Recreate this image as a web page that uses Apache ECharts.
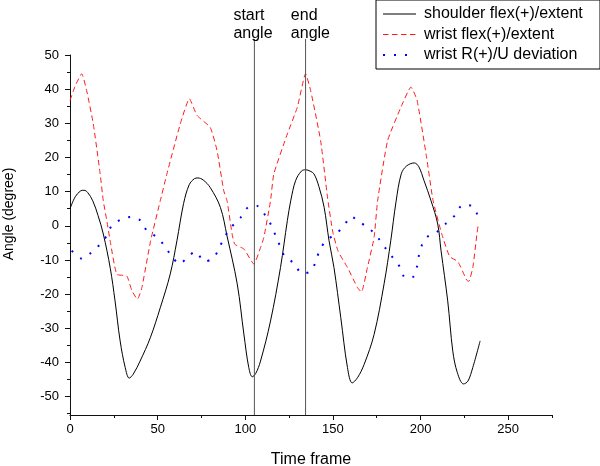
<!DOCTYPE html>
<html>
<head>
<meta charset="utf-8">
<script src="https://cdn.jsdelivr.net/npm/echarts@6/dist/echarts.min.js"></script>
<style>
html,body{margin:0;padding:0;background:#fff;}
#chart{width:600px;height:466px;}
</style>
</head>
<body>
<div id="chart"></div>
<script>
// ---- data ----
const seriesNames = ['shoulder flex(+)/extent', 'wrist flex(+)/extent', 'wrist R(+)/U deviation'];

const shoulderT = [0,3,6,8,10,13,16,19,23,25.7,28.6,31.5,33.8,36,40,45.8,51.5,57.2,61,64.8,68,71,73,76,80,85.8,89.6,95.4,99.2,102,104,106,108.7,114.4,120.1,124,126,128.7,132,134.4,137,139.2,142,145,147.8,150.6,154.5,158.3,161,164,167.8,173.5,179.2,183,186,189,192,196.4,199,202,206,209.8,211.7,215.5,218.4,221,224.5,227,229.8,234];
const shoulderV = [5,8.5,10.2,10.4,9.8,7.3,3,-2.4,-12.5,-22,-33.7,-41.5,-44.6,-43.5,-39.6,-32.8,-24,-14.1,-4.4,6.5,12,13.8,14,13.4,11.2,5.4,-3,-17,-31.7,-41.5,-44.2,-43.2,-39.6,-27.9,-12.2,1.5,7.5,13.2,16,16.4,16,15.2,11.5,5.4,-4.4,-12.2,-26.9,-41.5,-46,-44.5,-40.6,-31.8,-17,-4.4,7,15.2,17.5,18.4,17.3,13.2,7.3,0.5,-7.3,-22,-36.7,-43,-46.3,-45.5,-41.5,-33.7];

const wristFlexT = [0,3,6.7,9.5,13.3,17.2,19,21,22.9,26.7,32.4,35.3,38.5,41,46,51.5,55.3,62.9,68.1,72.5,80,83.9,87.7,89.6,92.5,94,99.2,104.9,108.7,110.6,114.4,116.3,124,129.7,134.4,137.3,143,147,150,153,158.3,164,166.3,169.7,173.5,175.5,181.2,188.8,194.5,198,203.4,207.1,212,216.6,221.3,226.3,227.5,229.9,232.2,233];
const wristFlexV = [36.7,41,44.5,39.6,29.8,15.2,7.3,1.5,-4.4,-14.2,-14.7,-19,-21.5,-18.1,-4.4,7.3,15.2,29.8,37.2,32.3,28.8,22,10.3,7.3,-2.4,-5.4,-6.8,-11.2,-6.4,-3.4,7.3,15.2,26.9,34.7,44.5,39.6,24.9,8,-2,-7.5,-12.2,-18.1,-19.4,-12.2,-3.4,7.3,24.9,34.7,40.6,36.8,20.2,7.5,-2.2,-9,-10.5,-15.9,-16.3,-12,-2.2,0.5];

const wristDevT = [1,6.7,11.8,16.8,21,23.8,29,34.7,40.4,43.9,49.2,54,57.6,62.6,67.1,71.7,76.7,82,85.2,88.1,91.9,97.3,101.6,106.8,111.6,115,117.3,119.8,122.4,127.8,132.5,137.7,140.2,142.4,145.9,151.6,156.4,160.2,165.5,171.2,176,180.2,184.4,188.4,191.3,196,198,198.9,200.4,203.7,208.8,214.5,219.7,224.1,229.4,232.7];
const wristDevV = [-7.3,-9.6,-8,-5.6,-2.9,0,1.8,2.6,1.5,-1.5,-3.2,-5.9,-8.6,-11.2,-9.1,-7.6,-10.5,-9.3,-6.4,-3.4,-0.5,2.4,5.4,5.8,2.9,0,-2.9,-5.9,-8.8,-11,-14,-13.2,-10.3,-7.3,-4.4,-2.4,0,2.7,1.0,-1.0,-3.7,-6.7,-9.5,-12.2,-15.2,-14.9,-11.9,-9.1,-6.1,-3.3,-2.0,0.7,3.1,6.1,5.8,2.9];

const markerT = [105.2, 134.4];
const markerTexts = ['start\nangle', 'end\nangle'];
const markerTopV = 54.7;

const xMin = 0, xMax = 275;
const yMin = -55.4, yMax = 50;
const xTickLabels = [0, 50, 100, 150, 200, 250];
const xMinorTicks = [25, 75, 125, 175, 225, 275];
const yTickLabels = [-50, -40, -30, -20, -10, 0, 10, 20, 30, 40, 50];
const yMinorTicks = [-55, -45, -35, -25, -15, -5, 5, 15, 25, 35, 45];

// ---- build ----
const FONT = '"Liberation Sans", Arial, sans-serif';
const pairs = (t, v) => t.map((x, i) => [x, v[i]]);
const markerOffsets = [[-21, 4], [-14.7, 4]];
const legendLineWidths = [1, 1, 2];

const axisLineStyle = { color: '#111', width: 1 };

const option = {
  animation: false,
  textStyle: { fontFamily: FONT },
  grid: { left: 70, right: 48, top: 55, bottom: 51, containLabel: false, outerBoundsMode: 'none' },
  legend: {
    data: seriesNames.map((n, i) => ({ name: n, lineStyle: { width: legendLineWidths[i] } })),
    orient: 'vertical',
    left: 376, top: 0,
    padding: [6, 6, 6, 6],
    itemGap: 4.5,
    itemWidth: 33, itemHeight: 14,
    borderColor: '#000', borderWidth: 1,
    selectedMode: false,
    itemStyle: { opacity: 0 },
    textStyle: { fontFamily: FONT, fontSize: 16, color: '#000', lineHeight: 14, width: 170, padding: [0, 0, 0, 3] }
  },
  xAxis: [
    {
      type: 'value', min: xMin, max: xMax, position: 'bottom',
      name: 'Time frame', nameLocation: 'middle', nameGap: 37,
      nameTextStyle: { fontSize: 16, color: '#000', fontFamily: FONT },
      axisLine: { show: true, onZero: false, lineStyle: axisLineStyle },
      axisTick: { show: true, inside: false, length: 5, customValues: xTickLabels, lineStyle: axisLineStyle },
      axisLabel: { customValues: xTickLabels, fontSize: 13, color: '#000', margin: 8, fontFamily: FONT },
      splitLine: { show: false }
    },
    {
      type: 'value', min: xMin, max: xMax, position: 'bottom',
      axisLine: { show: false, onZero: false },
      axisTick: { show: true, inside: false, length: 3, customValues: xMinorTicks, lineStyle: axisLineStyle },
      axisLabel: { show: false },
      splitLine: { show: false }
    }
  ],
  yAxis: [
    {
      type: 'value', min: yMin, max: yMax, position: 'left',
      name: 'Angle (degree)', nameLocation: 'middle', nameGap: 54, nameRotate: 90,
      nameTextStyle: { fontSize: 14, color: '#000', fontFamily: FONT, padding: [0, 0, 0, 42] },
      axisLine: { show: true, onZero: false, lineStyle: axisLineStyle },
      axisTick: { show: true, inside: false, length: 5, customValues: yTickLabels, lineStyle: axisLineStyle },
      axisLabel: { customValues: yTickLabels, fontSize: 13, color: '#000', margin: 11, fontFamily: FONT },
      splitLine: { show: false }
    },
    {
      type: 'value', min: yMin, max: yMax, position: 'left',
      axisLine: { show: false, onZero: false },
      axisTick: { show: true, inside: false, length: 3, customValues: yMinorTicks, lineStyle: axisLineStyle },
      axisLabel: { show: false },
      splitLine: { show: false }
    }
  ],
  series: [
    {
      name: seriesNames[0], type: 'line', data: pairs(shoulderT, shoulderV),
      symbol: 'none', smooth: 0.35, silent: true,
      lineStyle: { color: '#000', width: 1 }, itemStyle: { color: '#000' }
    },
    {
      name: seriesNames[1], type: 'line', data: pairs(wristFlexT, wristFlexV),
      symbol: 'none', smooth: 0.15, silent: true,
      lineStyle: { color: '#ff1a1a', width: 1, type: [5.5, 3.5] }, itemStyle: { color: '#ff1a1a' }
    },
    {
      name: seriesNames[2], type: 'line', data: pairs(wristDevT, wristDevV),
      symbol: 'none', smooth: 0.3, silent: true,
      lineStyle: { color: '#0000ff', width: 2, type: [2, 9] }, itemStyle: { color: '#0000ff' }
    }
  ].concat(markerT.map((t, i) => ({
    name: 'marker' + i, type: 'line', clip: false, silent: true,
    symbol: 'circle', symbolSize: 0.01, showSymbol: true,
    itemStyle: { color: 'rgba(0,0,0,0)' },
    lineStyle: { color: '#555', width: 1 },
    data: [
      { value: [t, yMin] },
      { value: [t, markerTopV], label: {
          show: true, position: 'top', distance: 0, align: 'left',
          offset: markerOffsets[i], formatter: markerTexts[i],
          fontSize: 16, lineHeight: 18, color: '#000', fontFamily: FONT
      } }
    ]
  })))
};

const chart = echarts.init(document.getElementById('chart'), null, { renderer: 'canvas' });
chart.setOption(option);
</script>
</body>
</html>
